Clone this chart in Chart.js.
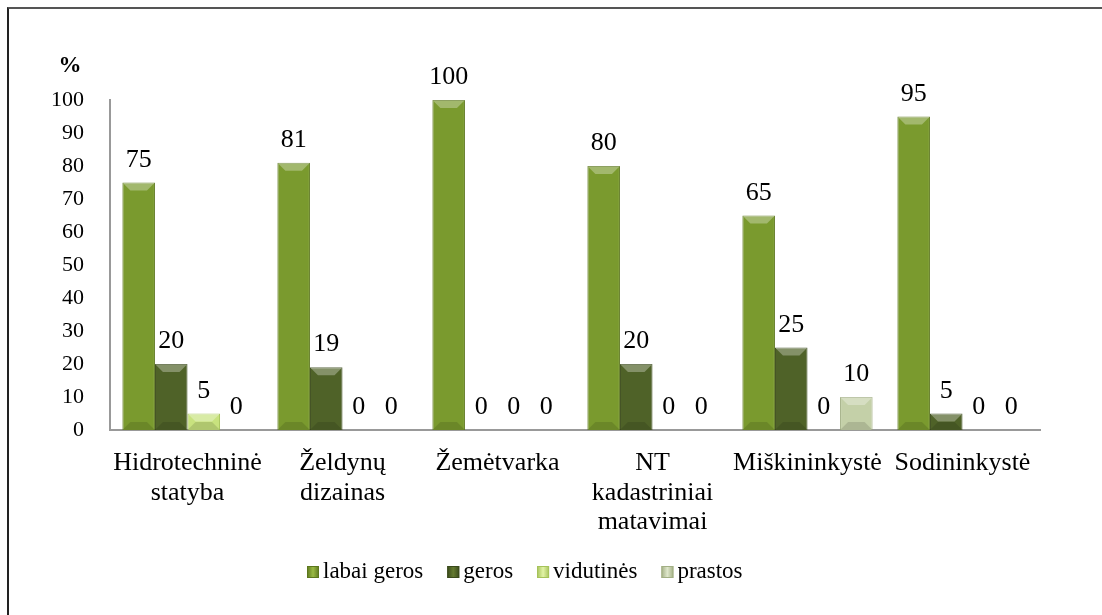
<!DOCTYPE html>
<html>
<head>
<meta charset="utf-8">
<script src="https://cdn.jsdelivr.net/npm/chart.js@4"></script>
<style>
  html, body { margin: 0; padding: 0; background: #fff; }
  #wrap { position: relative; width: 1102px; height: 615px; }
  #frame { position: absolute; left: 7px; top: 7px; right: 0; bottom: 0; border-top: 2px solid #555; border-left: 2px solid #222; }
  canvas { position: absolute; left: 0; top: 0; }
</style>
</head>
<body>
<div id="wrap">
  <div id="frame"></div>
  <canvas id="c" width="1102" height="615"></canvas>
</div>
<script>
const categories = [
  ["Hidrotechninė", "statyba"],
  ["Želdynų", "dizainas"],
  ["Žemėtvarka"],
  ["NT", "kadastriniai", "matavimai"],
  ["Miškininkystė"],
  ["Sodininkystė"]
];
const seriesNames = ["labai geros", "geros", "vidutinės", "prastos"];
const labaiGeros = [75, 81, 100, 80, 65, 95];
const geros      = [20, 19, 0, 20, 25, 5];
const vidutines  = [5, 0, 0, 0, 0, 0];
const prastos    = [0, 0, 0, 0, 10, 0];
const yTicks = [0, 10, 20, 30, 40, 50, 60, 70, 80, 90, 100];

const FONT = "'Liberation Serif', 'Times New Roman', serif";
const palette = [
  { base: '#7a9a2e', light: '#9aba44', dark: '#5c771d' },
  { base: '#4f6228', light: '#647a30', dark: '#3a4a1b' },
  { base: '#c8e27e', light: '#e2f3a6', dark: '#a6c35a' },
  { base: '#c4d0a8', light: '#dfe7cb', dark: '#a2af84' }
];

function grad(ctx, i) {
  const chart = ctx.chart;
  const el = ctx.element;
  if (!el || el.x === undefined) return palette[i].base;
  const w = el.width || 32;
  const g = chart.ctx.createLinearGradient(el.x - w / 2, 0, el.x + w / 2, 0);
  g.addColorStop(0, palette[i].dark);
  g.addColorStop(0.15, palette[i].base);
  g.addColorStop(0.5, palette[i].light);
  g.addColorStop(0.85, palette[i].base);
  g.addColorStop(1, palette[i].dark);
  return g;
}

const allSeries = [labaiGeros, geros, vidutines, prastos];

const labelPlugin = {
  id: 'valueLabels',
  afterDatasetsDraw(chart) {
    const ctx = chart.ctx;
    ctx.save();
    ctx.font = '26px ' + FONT;
    ctx.fillStyle = '#000';
    ctx.textAlign = 'center';
    ctx.textBaseline = 'alphabetic';
    chart.data.datasets.forEach((ds, di) => {
      const meta = chart.getDatasetMeta(di);
      meta.data.forEach((bar, i) => {
        ctx.fillText(String(ds.data[i]), bar.x, bar.y - 16);
      });
    });
    // % title
    ctx.font = 'bold 23px ' + FONT;
    ctx.textAlign = 'center';
    ctx.textBaseline = 'middle';
    ctx.fillText('%', 70, 66);

    // legend
    ctx.font = '23px ' + FONT;
    ctx.textAlign = 'left';
    ctx.textBaseline = 'middle';
    const y = 572;
    let x = 307;
    seriesNames.forEach((name, i) => {
      const g = ctx.createLinearGradient(x, 0, x + 12, 0);
      g.addColorStop(0, palette[i].dark);
      g.addColorStop(0.5, palette[i].light);
      g.addColorStop(1, palette[i].dark);
      ctx.fillStyle = g;
      ctx.fillRect(x, y - 6, 12, 12);
      ctx.strokeStyle = palette[i].dark;
      ctx.lineWidth = 1;
      ctx.strokeRect(x + 0.5, y - 5.5, 11, 11);
      ctx.fillStyle = '#000';
      ctx.fillText(name, x + 16, y);
      x += 16 + ctx.measureText(name).width + 24;
    });
    ctx.restore();
  }
};

const bevelPlugin = {
  id: 'bevel',
  afterDatasetsDraw(chart) {
    const ctx = chart.ctx;
    ctx.save();
    chart.data.datasets.forEach((ds, di) => {
      const meta = chart.getDatasetMeta(di);
      meta.data.forEach((bar, i) => {
        if (ds.data[i] <= 0) return;
        const w = bar.width, x0 = bar.x - w / 2, x1 = bar.x + w / 2;
        const top = bar.y, h = bar.base - bar.y;
        const b = Math.min(8, h / 2);
        ctx.fillStyle = 'rgba(255,255,255,0.30)';
        ctx.beginPath();
        ctx.moveTo(x0, top); ctx.lineTo(x1, top); ctx.lineTo(x1 - b, top + b); ctx.lineTo(x0 + b, top + b); ctx.closePath();
        ctx.fill();
        ctx.fillStyle = 'rgba(0,0,0,0.12)';
        ctx.beginPath();
        ctx.moveTo(x0, bar.base); ctx.lineTo(x1, bar.base); ctx.lineTo(x1 - b, bar.base - b); ctx.lineTo(x0 + b, bar.base - b); ctx.closePath();
        ctx.fill();
      });
    });
    ctx.restore();
  }
};

new Chart(document.getElementById('c'), {
  type: 'bar',
  data: {
    labels: categories,
    datasets: seriesNames.map((name, i) => ({
      label: name,
      data: allSeries[i],
      backgroundColor: (ctx) => grad(ctx, i),
      borderColor: palette[i].dark,
      borderWidth: 1,
      barPercentage: 1,
      categoryPercentage: 0.84
    }))
  },
  options: {
    responsive: false,
    animation: false,
    devicePixelRatio: 1,
    layout: { padding: { left: 10, right: 62, top: 100, bottom: 70 } },
    plugins: {
      tooltip: { enabled: false },
      legend: { display: false }
    },
    scales: {
      x: {
        grid: { display: false, drawTicks: false },
        border: { color: '#999', width: 2 },
        ticks: { color: '#000', font: { family: FONT, size: 26, lineHeight: 1.12 }, maxRotation: 0, autoSkip: false, padding: 19 },
        afterFit(s) { s.height = 115; }
      },
      y: {
        min: 0, max: 100,
        afterBuildTicks(s) { s.ticks = yTicks.map(v => ({ value: v })); },
        grid: { display: false, drawTicks: false },
        border: { color: '#999', width: 2 },
        ticks: { color: '#000', font: { family: FONT, size: 22 }, padding: 26 },
        afterFit(s) { s.width = 100; }
      }
    }
  },
  plugins: [bevelPlugin, labelPlugin]
});
</script>
</body>
</html>
